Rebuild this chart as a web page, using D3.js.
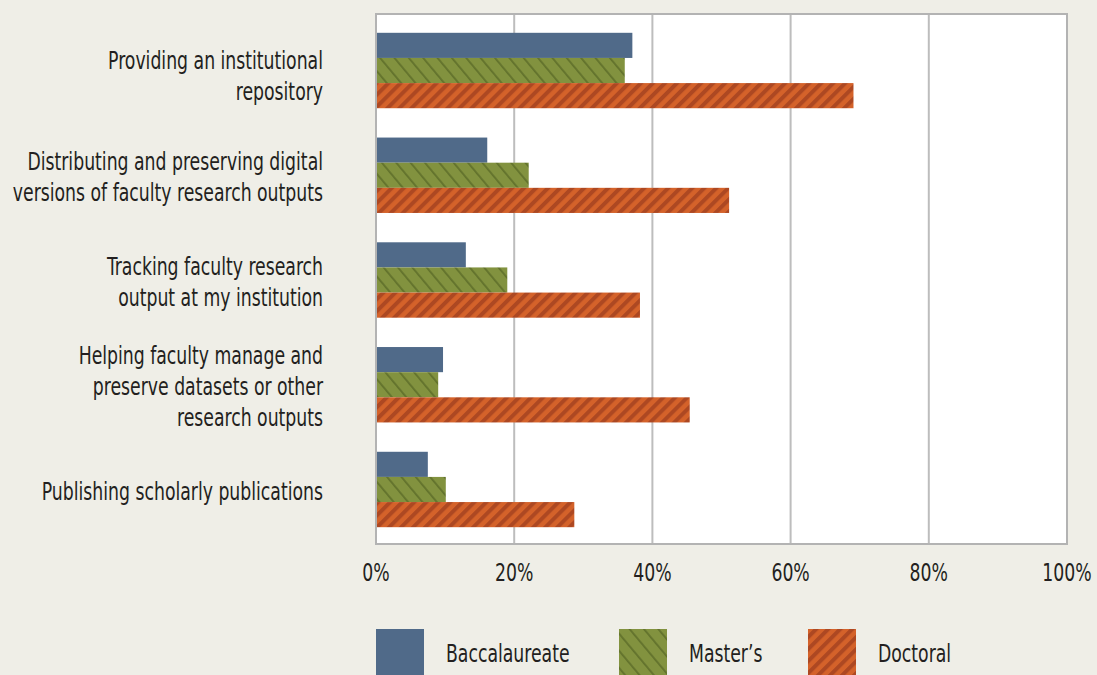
<!DOCTYPE html>
<html><head><meta charset="utf-8">
<script src="https://cdn.jsdelivr.net/npm/d3@7"></script>
<style>
html,body{margin:0;padding:0;background:#efeee7;}
svg{display:block;}
text{font-family:"Liberation Sans Narrow","DejaVu Sans Condensed",sans-serif;fill:#231f20;}
</style></head>
<body><svg id="c" width="1097" height="675"></svg>
<script>
const categories = [
  ["Providing an institutional","repository"],
  ["Distributing and preserving digital","versions of faculty research outputs"],
  ["Tracking faculty research","output at my institution"],
  ["Helping faculty manage and","preserve datasets or other","research outputs"],
  ["Publishing scholarly publications"]
];
const seriesNames = ["Baccalaureate","Master\u2019s","Doctoral"];
const baccalaureate = [37.1, 16.1, 13.0, 9.7, 7.5];
const masters = [36.0, 22.1, 19.0, 9.0, 10.1];
const doctoral = [69.1, 51.1, 38.2, 45.4, 28.7];
const ticks = [0, 20, 40, 60, 80, 100];

const series = [baccalaureate, masters, doctoral];
const fills = ["#506a89", "url(#pGreen)", "url(#pOrange)"];
const K = 0.8; // horizontal condensing to mimic the condensed typeface

const svg = d3.select("#c");
const defs = svg.append("defs");
const pg = defs.append("pattern").attr("id","pGreen").attr("patternUnits","userSpaceOnUse")
  .attr("width",11).attr("height",11).attr("patternTransform","rotate(-40)");
pg.append("rect").attr("width",11).attr("height",11).attr("fill","#82923f");
pg.append("rect").attr("x",0).attr("width",1.8).attr("height",11).attr("fill","#62722c");
const po = defs.append("pattern").attr("id","pOrange").attr("patternUnits","userSpaceOnUse")
  .attr("width",8.5).attr("height",8.5).attr("patternTransform","rotate(45)");
po.append("rect").attr("width",8.5).attr("height",8.5).attr("fill","#d4622a");
po.append("rect").attr("x",0).attr("width",4).attr("height",8.5).attr("fill","#ad4822");

const L = 376, R = 1067, T = 14, B = 544;
const x = d3.scaleLinear().domain([0,100]).range([L,R]);
const y = d3.scaleBand().domain(d3.range(categories.length)).range([T+1,B+1]).paddingInner(0.28).paddingOuter(0.17);
const ys = d3.scaleBand().domain(d3.range(series.length)).range([0,y.bandwidth()]);

svg.append("rect").attr("x",L).attr("y",T).attr("width",R-L).attr("height",B-T).attr("fill","#fff");

svg.append("g").selectAll("line").data(ticks.slice(1,-1)).join("line")
  .attr("x1",d=>x(d)).attr("x2",d=>x(d)).attr("y1",T).attr("y2",B)
  .attr("stroke","#bdbdbd").attr("stroke-width",2);

series.forEach((vals,si)=>{
  svg.append("g").selectAll("rect").data(vals).join("rect")
    .attr("x",x(0)).attr("y",(d,i)=>y(i)+ys(si))
    .attr("width",d=>x(d)-x(0)).attr("height",ys.bandwidth())
    .attr("fill",fills[si]);
});

svg.append("rect").attr("x",L).attr("y",T).attr("width",R-L).attr("height",B-T)
  .attr("fill","none").attr("stroke","#b3b3b3").attr("stroke-width",2);

// x tick labels
svg.append("g").selectAll("text").data(ticks).join("text")
  .attr("transform",d=>`translate(${x(d)},581) scale(${K},1)`).attr("text-anchor","middle")
  .style("font-size","24px").text(d=>d+"%");

// category labels
const lh = 31;
const lab = svg.append("g");
categories.forEach((lines,i)=>{
  const cy = y(i)+y.bandwidth()/2 + (i===0 ? 3 : 0);
  const t = lab.append("text").attr("text-anchor","end").style("font-size","24px")
    .attr("transform",`translate(323,0) scale(${K},1)`);
  lines.forEach((ln,j)=>{
    t.append("tspan").attr("x",0).attr("y",cy + (j-(lines.length-1)/2)*lh + 10.5).text(ln);
  });
});

// legend
const legX = [376, 619, 808];
seriesNames.forEach((n,i)=>{
  svg.append("rect").attr("x",legX[i]).attr("y",629).attr("width",48).attr("height",60).attr("fill",fills[i]);
  svg.append("text").attr("transform",`translate(${legX[i]+70},662) scale(${K},1)`).style("font-size","24px").text(n);
});
</script></body></html>
